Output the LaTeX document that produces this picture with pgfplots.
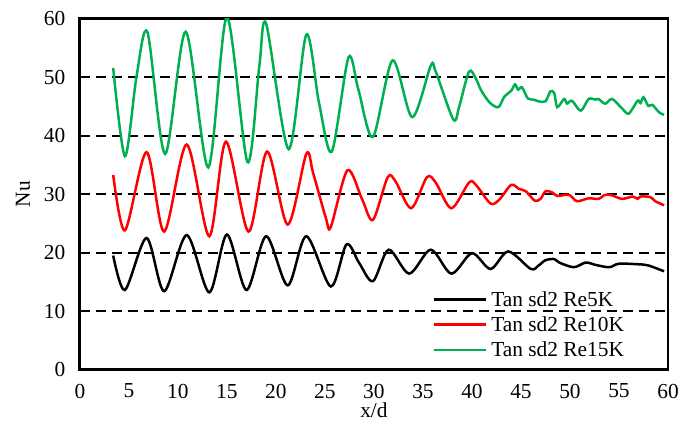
\documentclass[border=0pt]{standalone}
\usepackage{fontspec}
\setmainfont{Liberation Serif}
\usepackage{pgfplots}
\pgfplotsset{compat=1.18}
\definecolor{exgreen}{RGB}{0,176,80}
\begin{document}
\begin{tikzpicture}
\begin{axis}[
  scale only axis, width=589bp, height=351bp,
  xmin=0, xmax=60, ymin=0, ymax=60,
  xtick={0,5,...,60}, ytick={0,10,...,60},
  major tick length=0pt,
  /pgf/number format/assume math mode=true,
  tick label style={font=\fontsize{21.5}{25}\selectfont},
  xticklabel style={yshift=-11bp},
  yticklabel style={xshift=-11bp},
  axis line style={line width=3bp},
  ymajorgrids,
  grid style={black, line width=2.2bp, dash pattern=on 10bp off 6bp},
  xlabel={x/d}, ylabel={Nu},
  label style={font=\fontsize{21.5}{25}\selectfont},
  xlabel style={at={(axis description cs:0.5,0)}, anchor=center, yshift=-41bp},
  ylabel style={at={(axis description cs:0,0.5)}, anchor=center, yshift=57bp},
  legend image code/.code={\draw[#1] (0bp,0bp) -- (52bp,0bp);},
  legend cell align=left,
  legend style={at={(rel axis cs:0.599,0.2365)}, anchor=north west, draw=none, fill=none,
    inner sep=0pt, font=\fontsize{21.5}{25}\selectfont, nodes={inner sep=4.5bp}},
  every axis plot/.append style={line width=2.5bp, smooth},
]
\addplot[black] coordinates {
(3.4,19.5) (4.6,13.6) (6.8,22.5) (8.6,13.4) (10.9,23.0) (13.2,13.2) (15.0,23.1) (17.0,13.6) (19.0,22.8) (21.2,14.4) (23.1,22.8) (25.6,14.2) (27.2,21.4) (28.5,18.2) (29.9,15.1) (31.5,20.5) (33.6,16.4) (35.8,20.5) (37.9,16.4) (40.0,19.9) (41.9,17.2) (43.7,20.2) (46.0,17.2) (46.8,17.8) (47.5,18.7) (48.4,18.9) (48.9,18.3) (50.4,17.5) (51.6,18.3) (52.6,17.9) (54.0,17.5) (55.0,18.1) (57.0,18.0) (58.0,17.8) (59.6,16.8)
};
\addlegendentry{Tan sd2 Re5K}
\addplot[red] coordinates {
(3.4,33.3) (4.6,23.8) (6.8,37.2) (8.6,23.6) (10.9,38.5) (13.2,22.8) (14.9,39.0) (17.2,23.6) (19.1,37.3) (21.2,24.8) (23.1,36.9) (23.8,33.6) (25.1,25.9) (25.6,24.4) (27.3,34.1) (28.8,29.1) (29.9,25.6) (31.4,32.9) (32.2,32.2) (33.8,27.6) (35.4,32.9) (36.3,32.0) (37.9,27.6) (39.7,32.0) (40.4,31.6) (41.9,28.4) (42.8,29.1) (44.0,31.6) (44.8,30.9) (45.5,30.5) (46.4,28.9) (47.0,29.2) (47.5,30.5) (48.2,30.3) (48.7,29.7) (49.9,29.9) (50.7,28.8) (51.9,29.3) (52.9,29.2) (53.6,29.9) (54.3,29.8) (55.3,29.2) (56.4,29.6) (56.9,29.2) (57.2,29.6) (58.2,29.5) (58.7,28.8) (59.6,28.1)
};
\addlegendentry{Tan sd2 Re10K}
\addplot[exgreen] coordinates {
(3.4,51.6) (4.6,36.5) (5.8,50.4) (6.9,57.7) (8.7,36.9) (10.8,57.8) (13.1,34.6) (15.0,60.3) (17.1,35.5) (18.3,51.8) (19.0,59.2) (21.3,37.7) (23.1,57.3) (24.4,45.6) (25.7,37.3) (27.4,53.4) (28.4,48.0) (29.9,39.8) (31.9,52.9) (33.9,43.2) (35.8,52.0) (36.3,51.0) (38.1,42.8) (38.7,45.0) (39.7,51.0) (40.4,49.8) (40.9,47.9) (41.8,45.7) (42.7,44.9) (43.3,46.7) (44.0,47.7) (44.4,48.8) (44.7,47.9) (45.1,48.3) (45.7,46.4) (46.3,46.2) (46.8,45.9) (47.5,45.9) (48.0,47.6) (48.4,47.3) (48.7,44.9) (49.4,46.3) (49.7,45.5) (50.2,46.0) (51.1,44.3) (51.9,46.3) (52.6,46.2) (52.9,46.3) (53.6,45.5) (54.3,46.3) (55.3,44.7) (56.0,43.8) (56.9,46.0) (57.2,45.6) (57.5,46.6) (58.0,45.1) (58.4,45.3) (59.1,44.0) (59.6,43.6)
};
\addlegendentry{Tan sd2 Re15K}
\end{axis}
\path (current axis.south west) ++(-80bp,-51bp);
\path (current axis.north east) ++(13bp,19bp);
\end{tikzpicture}
\end{document}
